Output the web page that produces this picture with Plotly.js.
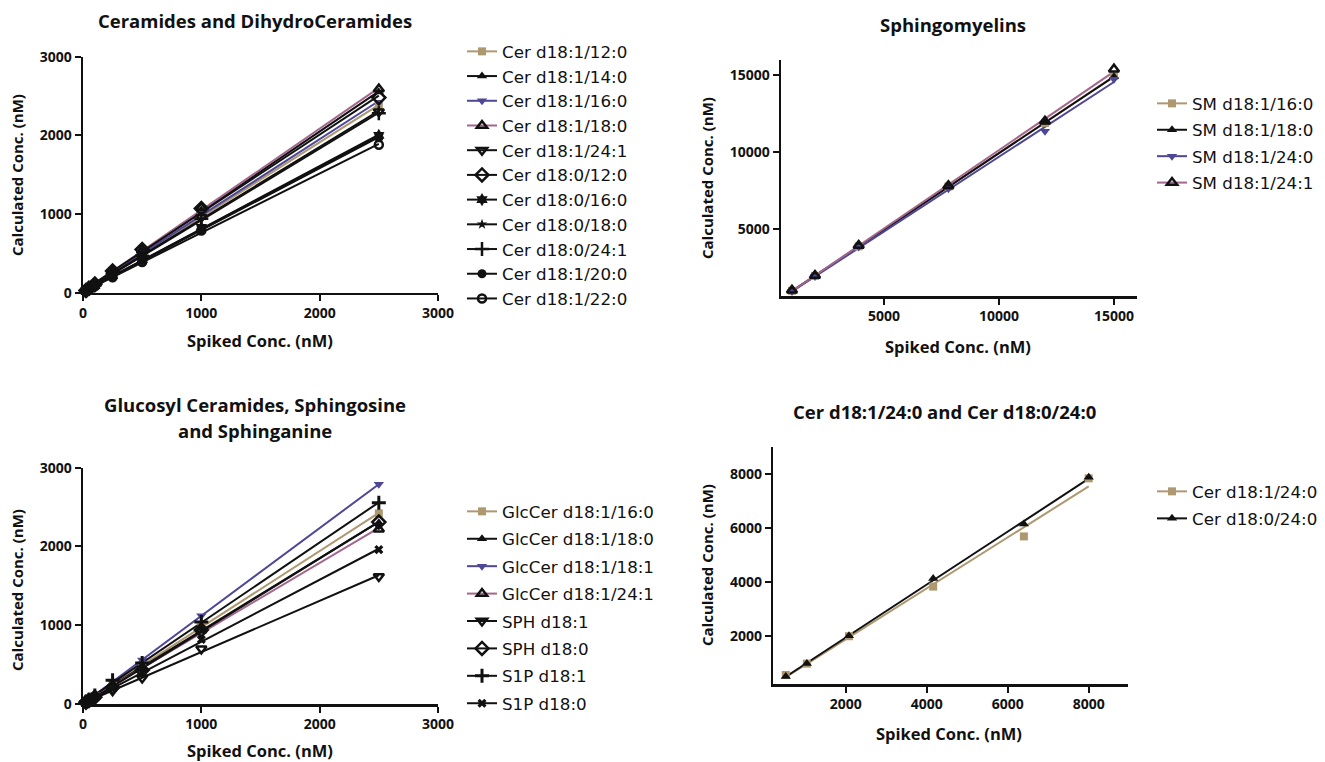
<!DOCTYPE html>
<html>
<head>
<meta charset="utf-8">
<script src="https://cdn.plot.ly/plotly-3.0.1.min.js"></script>
<style>html,body{margin:0;padding:0;background:#fff;}#chart{width:1325px;height:762px;}</style>
</head>
<body>
<div id="chart"></div>
<script>
// ---------- DATA ----------
// Panel A: Ceramides and DihydroCeramides
const cerX = [25, 50, 100, 250, 500, 1000, 2500];
const cerNames = ["Cer d18:1/12:0","Cer d18:1/14:0","Cer d18:1/16:0","Cer d18:1/18:0","Cer d18:1/24:1","Cer d18:0/12:0","Cer d18:0/16:0","Cer d18:0/18:0","Cer d18:0/24:1","Cer d18:1/20:0","Cer d18:1/22:0"];
const cer_d181_120 = [24, 52, 98, 240, 500, 1000, 2370];
const cer_d181_140 = [26, 54, 104, 260, 530, 1050, 2550];
const cer_d181_160 = [25, 52, 102, 250, 510, 1020, 2420];
const cer_d181_180 = [27, 55, 108, 270, 545, 1080, 2590];
const cer_d181_241 = [25, 50, 98, 245, 490, 960, 2300];
const cer_d180_120 = [28, 56, 110, 275, 550, 1070, 2480];
const cer_d180_160 = [22, 44, 88, 215, 420, 830, 2000];
const cer_d180_180 = [22, 43, 86, 210, 415, 820, 1990];
const cer_d180_241 = [24, 49, 96, 240, 470, 940, 2280];
const cer_d181_200 = [21, 43, 85, 205, 410, 810, 1970];
const cer_d181_220 = [20, 40, 80, 195, 390, 790, 1880];

// Panel B: Sphingomyelins
const smX = [1000, 2000, 3900, 7800, 12000, 15000];
const smNames = ["SM d18:1/16:0","SM d18:1/18:0","SM d18:1/24:0","SM d18:1/24:1"];
const sm_160 = [950, 1920, 3850, 7750, 11900, 14950];
const sm_180 = [940, 1900, 3850, 7700, 11950, 14900];
const sm_240 = [900, 1880, 3800, 7600, 11350, 14750];
const sm_241 = [980, 1950, 3900, 7800, 12000, 15400];

// Panel C: Glucosyl Ceramides, Sphingosine and Sphinganine
const glcX = [25, 50, 100, 250, 500, 1000, 2500];
const glcNames = ["GlcCer d18:1/16:0","GlcCer d18:1/18:0","GlcCer d18:1/18:1","GlcCer d18:1/24:1","SPH d18:1","SPH d18:0","S1P d18:1","S1P d18:0"];
const glc_160 = [25, 50, 100, 250, 490, 990, 2420];
const glc_180 = [24, 49, 97, 240, 475, 960, 2300];
const glc_181 = [29, 58, 115, 290, 560, 1120, 2790];
const glc_241 = [23, 46, 92, 230, 460, 940, 2220];
const sph_181 = [18, 36, 70, 170, 330, 700, 1620];
const sph_180 = [22, 44, 86, 210, 430, 940, 2310];
const s1p_181 = [27, 54, 108, 300, 520, 1040, 2555];
const s1p_180 = [20, 40, 80, 195, 400, 820, 1960];

// Panel D: Cer d18:1/24:0 and Cer d18:0/24:0
const c24X = [520, 1040, 2080, 4160, 6400, 8000];
const c24Names = ["Cer d18:1/24:0","Cer d18:0/24:0"];
const c24_181 = [540, 960, 1980, 3825, 5690, 7850];
const c24_180 = [480, 970, 2000, 4130, 6150, 7890];

// Tick labels
const tickA = [0, 1000, 2000, 3000];
const tickBx = [5000, 10000, 15000];
const tickBy = [5000, 10000, 15000];
const tickDx = [2000, 4000, 6000, 8000];
const tickDy = [2000, 4000, 6000, 8000];

// ---------- STYLE ----------
const TAN = "#AE9870", PURPLE = "#4E4796", PINK = "#A3668C", BLK = "#111111";
const FONT = "'Open Sans', Lato, sans-serif";
const LFONT = "'DejaVu Sans', 'Open Sans', sans-serif";
const W = 1325, H = 762;

function sty(symbol, markerColor, lineColor, size, lw) {
  return {symbol, mc: markerColor, lc: lineColor, size: size || 9, lw: lw || 0};
}
const stA = [
  sty("square", TAN, TAN, 8),
  sty("triangle-up", BLK, BLK, 9),
  sty("triangle-down", PURPLE, PURPLE, 9),
  sty("triangle-up-open", BLK, PINK, 9, 2.5),
  sty("triangle-down-open", BLK, BLK, 9, 2.5),
  sty("diamond-open", BLK, BLK, 10, 2.5),
  sty("hexagram", BLK, BLK, 10),
  sty("star", BLK, BLK, 8),
  sty("cross-thin", BLK, BLK, 10, 2.5),
  sty("circle", BLK, BLK, 9),
  sty("circle-open", BLK, BLK, 8, 2.5)
];
const stB = [sty("square", TAN, TAN, 8), sty("triangle-up", BLK, BLK, 9), sty("triangle-down", PURPLE, PURPLE, 9), sty("triangle-up-open", BLK, PINK, 9, 2.5)];
const stC = [
  sty("square", TAN, TAN, 8),
  sty("triangle-up", BLK, BLK, 9),
  sty("triangle-down", PURPLE, PURPLE, 9),
  sty("triangle-up-open", BLK, PINK, 9, 2.5),
  sty("triangle-down-open", BLK, BLK, 9, 2.5),
  sty("diamond-open", BLK, BLK, 10, 2.5),
  sty("cross-thin", BLK, BLK, 10, 3),
  sty("x", BLK, BLK, 8)
];
const stD = [sty("square", TAN, TAN, 8), sty("triangle-up", BLK, BLK, 9)];

function fit(x, y) {
  const n = x.length;
  const mx = x.reduce((a, b) => a + b, 0) / n, my = y.reduce((a, b) => a + b, 0) / n;
  let sxy = 0, sxx = 0;
  for (let i = 0; i < n; i++) { sxy += (x[i] - mx) * (y[i] - my); sxx += (x[i] - mx) * (x[i] - mx); }
  const b = sxy / sxx, a = my - b * mx;
  const x0 = Math.min(...x), x1 = Math.max(...x);
  return {x: [x0, x1], y: [a + b * x0, a + b * x1]};
}

const traces = [];
function addPanel(xs, ys, names, styles, xa, ya, legendId) {
  ys.forEach((y, i) => {
    const s = styles[i];
    const f = fit(xs, y);
    traces.push({x: f.x, y: f.y, xaxis: xa, yaxis: ya, mode: "lines", line: {color: s.lc, width: 2}, showlegend: false, hoverinfo: "skip"});
  });
  ys.forEach((y, i) => {
    const s = styles[i];
    traces.push({x: xs, y: y, xaxis: xa, yaxis: ya, mode: "markers", cliponaxis: false, showlegend: false,
      marker: {symbol: s.symbol, color: s.mc, size: s.size, line: {color: s.mc, width: s.lw}}, name: names[i]});
  });
  ys.forEach((y, i) => {
    const s = styles[i];
    traces.push({x: [null], y: [null], xaxis: xa, yaxis: ya, mode: "lines+markers", name: names[i], legend: legendId, legendgroup: legendId + i,
      line: {color: s.lc, width: 2}, marker: {symbol: s.symbol, color: s.mc, size: s.size, line: {color: s.mc, width: s.lw}}});
  });
}
addPanel(cerX, [cer_d181_120, cer_d181_140, cer_d181_160, cer_d181_180, cer_d181_241, cer_d180_120, cer_d180_160, cer_d180_180, cer_d180_241, cer_d181_200, cer_d181_220], cerNames, stA, "x", "y", "legend");
addPanel(smX, [sm_160, sm_180, sm_240, sm_241], smNames, stB, "x2", "y2", "legend2");
addPanel(glcX, [glc_160, glc_180, glc_181, glc_241, sph_181, sph_180, s1p_181, s1p_180], glcNames, stC, "x3", "y3", "legend3");
addPanel(c24X, [c24_181, c24_180], c24Names, stD, "x4", "y4", "legend4");

function px(v) { return v / W; }
function py(v) { return 1 - v / H; }

function axis(domain, range, ticks, anchor) {
  return {domain, range, anchor, tickvals: ticks, ticktext: ticks.map(String), showgrid: false, zeroline: false,
    showline: true, linecolor: BLK, linewidth: 2.5, ticks: "outside", ticklen: 6, tickwidth: 2, tickcolor: BLK,
    tickfont: {family: FONT, size: 14, color: BLK, weight: "bold"}, fixedrange: true};
}
function legend(x, y, gap) {
  return {x: px(x), y: py(y), xanchor: "left", yanchor: "top", bgcolor: "rgba(0,0,0,0)", tracegroupgap: gap,
    font: {family: LFONT, size: 16.7, color: BLK}, itemclick: false, itemdoubleclick: false};
}
function ann(text, x, y, size, angle) {
  return {text, x: px(x), y: py(y), xref: "paper", yref: "paper", xanchor: "center", yanchor: "middle", showarrow: false,
    textangle: angle || 0, font: {family: FONT, size: size, color: BLK, weight: "bold"}};
}

const layout = {
  width: W, height: H, margin: {l: 0, r: 0, t: 0, b: 0}, paper_bgcolor: "#fff", plot_bgcolor: "rgba(0,0,0,0)",
  showlegend: true,
  xaxis: axis([px(83), px(438)], [0, 3000], tickA, "y"),
  yaxis: axis([py(292.7), py(56.7)], [0, 3000], tickA, "x"),
  xaxis2: axis([px(781), px(1136.5)], [522, 15980], tickBx, "y2"),
  yaxis2: axis([py(296), py(60)], [613, 15997], tickBy, "x2"),
  xaxis3: axis([px(83), px(438)], [0, 3000], tickA, "y3"),
  yaxis3: axis([py(704), py(467.7)], [0, 3000], tickA, "x3"),
  xaxis4: axis([px(773.3), px(1128.3)], [212, 8978], tickDx, "y4"),
  yaxis4: axis([py(684), py(446.7)], [204, 9026], tickDy, "x4"),
  legend: legend(462, 34, 0),
  legend2: legend(1152, 86, 1.7),
  legend3: legend(462, 494, 2.7),
  legend4: legend(1152, 474, 2.3),
  annotations: [
    ann("Ceramides and DihydroCeramides", 255, 20, 18.5),
    ann("Sphingomyelins", 953, 25, 18.5),
    ann("Glucosyl Ceramides, Sphingosine", 255, 404, 18.5),
    ann("and Sphinganine", 255, 431, 18.5),
    ann("Cer d18:1/24:0 and Cer d18:0/24:0", 944, 411, 18.5),
    ann("Calculated Conc. (nM)", 17, 175, 15, -90),
    ann("Spiked Conc. (nM)", 260, 340, 16.5),
    ann("Calculated Conc. (nM)", 707, 178, 15, -90),
    ann("Spiked Conc. (nM)", 958, 346, 16.5),
    ann("Calculated Conc. (nM)", 17, 590, 15, -90),
    ann("Spiked Conc. (nM)", 260, 750, 16.5),
    ann("Calculated Conc. (nM)", 707, 565, 15, -90),
    ann("Spiked Conc. (nM)", 949, 733, 16.5)
  ]
};
Plotly.newPlot("chart", traces, layout, {staticPlot: true, displayModeBar: false});
</script>
</body>
</html>
